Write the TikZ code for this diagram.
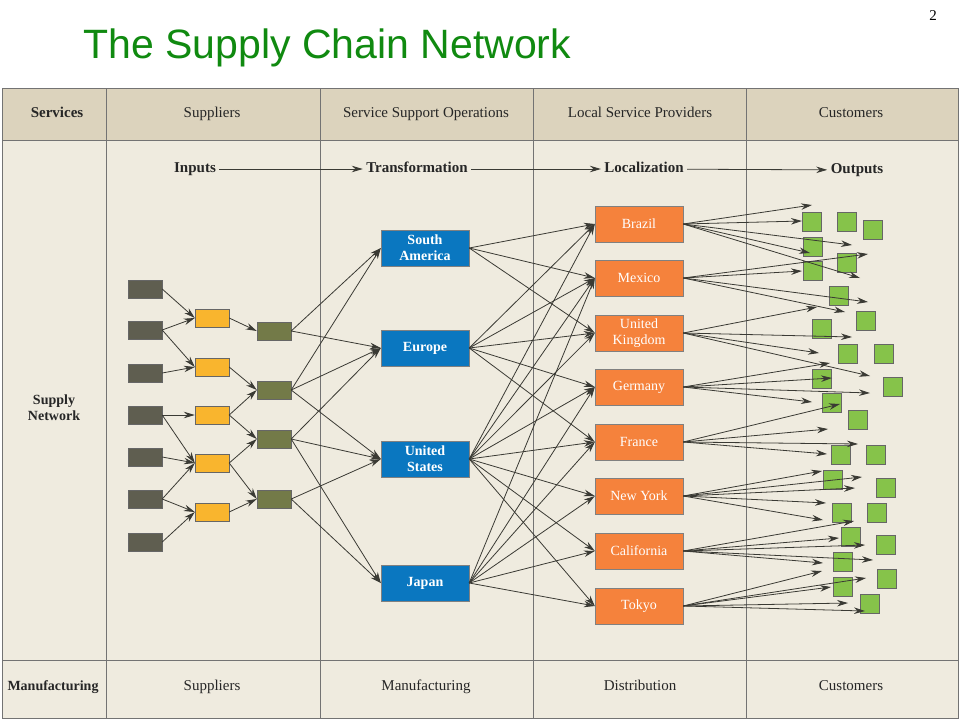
\documentclass[tikz,border=0pt]{standalone}
\usepackage{fontspec}
\setmainfont{Liberation Serif}
\newfontfamily\titlefont{Liberation Sans}
\usetikzlibrary{arrows.meta}
\definecolor{bodybg}{HTML}{EFEBDF}
\definecolor{headbg}{HTML}{DCD3BD}
\definecolor{grayb}{HTML}{5F5E50}
\definecolor{yelb}{HTML}{F9B52E}
\definecolor{oliveb}{HTML}{737A48}
\definecolor{blueb}{HTML}{0A77C0}
\definecolor{orangeb}{HTML}{F5823C}
\definecolor{greenb}{HTML}{86C34A}
\definecolor{titlegreen}{HTML}{108A10}
\definecolor{linec}{HTML}{3A3A34}
\begin{document}
\begin{tikzpicture}[x=1pt,y=-1pt,
  sup/.style={draw=black!60,fill=grayb,minimum width=34pt,minimum height=18pt,inner sep=0pt},
  yel/.style={draw=black!60,fill=yelb,minimum width=34pt,minimum height=18pt,inner sep=0pt},
  oli/.style={draw=black!60,fill=oliveb,minimum width=34pt,minimum height=18pt,inner sep=0pt},
  reg/.style={draw=black!50,fill=blueb,text=white,font=\bfseries\fontsize{14}{16}\selectfont,minimum width=88pt,minimum height=36pt,inner sep=0pt,align=center},
  loc/.style={draw=black!50,fill=orangeb,text=white,font=\fontsize{14}{16}\selectfont,minimum width=88pt,minimum height=36pt,inner sep=0pt,align=center},
  cust/.style={draw=black!60,fill=greenb,minimum width=19pt,minimum height=19pt,inner sep=0pt},
  arr/.style={draw=linec,line width=0.8pt,-{Stealth[length=11pt,width=6.5pt]}},
  hd/.style={font=\fontsize{15}{15}\selectfont,text=black!85,text height=10pt,text depth=3pt},
  hdb/.style={font=\bfseries\fontsize{15}{15}\selectfont,text=black!85,align=center,text height=10pt,text depth=3pt},
  stage/.style={font=\bfseries\fontsize{15}{15}\selectfont,text=black!85,text height=10pt,text depth=3pt}]
\useasboundingbox (0,0) rectangle (960,720);
\fill[white] (0,0) rectangle (960,720);
\node[text=titlegreen,font=\titlefont\fontsize{41}{41}\selectfont,anchor=west] (title) at (80,48) {The Supply Chain Network};
\node[font=\fontsize{15}{15}\selectfont] (pg) at (933,16) {2};
% table
\fill[bodybg] (2,88) rectangle (958,718);
\fill[headbg] (2,88) rectangle (958,140);
\draw[black!55,line width=0.8pt] (2,88) rectangle (958,718);
\draw[black!55,line width=0.8pt] (2,140) -- (958,140) (2,660) -- (958,660);
\foreach \x in {106,320,533,746} \draw[black!55,line width=0.8pt] (\x,88) -- (\x,718);
% headers
\node[hdb] (h0) at (57,114) {Services};
\node[hd] (h1) at (212,114) {Suppliers};
\node[hd] (h2) at (426,114) {Service Support Operations};
\node[hd] (h3) at (640,114) {Local Service Providers};
\node[hd] (h4) at (851,114) {Customers};
\node[hdb,font=\bfseries\fontsize{14}{15}\selectfont] (f0) at (53,687) {Manufacturing};
\node[hd] (f1) at (212,687) {Suppliers};
\node[hd] (f2) at (426,687) {Manufacturing};
\node[hd] (f3) at (640,687) {Distribution};
\node[hd] (f4) at (851,687) {Customers};
\node[font=\bfseries\fontsize{14}{16}\selectfont,align=center,text=black!85] (sn) at (54,408) {Supply\\Network};
% stages
\node[stage] (s1) at (195,169) {Inputs};
\node[stage] (s2) at (417,169) {Transformation};
\node[stage] (s3) at (644,169) {Localization};
\node[stage] (s4) at (857,170) {Outputs};
\draw[arr] (s1) -- (s2);
\draw[arr] (s2) -- (s3);
\draw[arr] (s3) -- (s4);
% suppliers
\foreach \i/\y in {1/289,2/330,3/373,4/415,5/457,6/499,7/542} \node[sup] (g\i) at (145,\y) {};
\foreach \i/\y in {1/318,2/367,3/415,4/463,5/512} \node[yel] (y\i) at (212,\y) {};
\foreach \i/\y in {1/331,2/390,3/439,4/499} \node[oli] (o\i) at (274,\y) {};
\node[reg] (sa) at (425,248) {South\\America};
\node[reg] (eu) at (425,348) {Europe};
\node[reg] (us) at (425,459) {United\\States};
\node[reg] (jp) at (425,583) {Japan};
\node[loc] (br) at (639,224) {Brazil};
\node[loc] (mx) at (639,278) {Mexico};
\node[loc] (uk) at (639,333) {United\\Kingdom};
\node[loc] (de) at (639,387) {Germany};
\node[loc] (fr) at (639,442) {France};
\node[loc] (ny) at (639,496) {New York};
\node[loc] (ca) at (639,551) {California};
\node[loc] (tk) at (639,606) {Tokyo};
% edges
\foreach \a/\b in {g1/y1,g2/y1,g2/y2,g3/y2,g4/y3,g4/y4,g5/y4,g6/y4,g6/y5,g7/y5,
  y1/o1,y2/o2,y3/o2,y3/o3,y4/o3,y4/o4,y5/o4,
  o1/sa,o1/eu,o2/sa,o2/eu,o2/us,o3/eu,o3/us,o3/jp,o4/us,o4/jp,
  sa/br,sa/mx,sa/uk,eu/br,eu/mx,eu/uk,eu/de,eu/fr,
  us/br,us/mx,us/uk,us/de,us/fr,us/ny,us/ca,us/tk,
  jp/mx,jp/de,jp/fr,jp/ny,jp/ca,jp/tk}
  \draw[arr] (\a.east) -- (\b.west);
% customers
\foreach \x/\y [count=\k] in {812/222,847/222,873/230,813/247,847/263,813/271,839/296,866/321,822/329,848/354,884/354,822/379,893/387,832/403,858/420,841/455,876/455,833/480,886/488,842/513,877/513,851/537,886/545,843/562,887/579,843/587,870/604}
  \node[cust] (c\k) at (\x,\y) {};
\foreach \s/\x/\y [count=\k] in {br/812/205,br/802/221,br/852/245,br/810/253,br/860/278,
  mx/868/254,mx/802/271,mx/868/302,mx/845/312,
  uk/817/307,uk/852/337,uk/819/353,uk/870/376,
  de/830/363,de/832/378,de/870/393,de/812/402,
  fr/840/404,fr/828/429,fr/858/444,fr/827/454,
  ny/822/471,ny/862/477,ny/855/488,ny/826/503,ny/823/520,
  ca/854/521,ca/839/538,ca/865/545,ca/873/560,ca/823/563,
  tk/822/571,tk/866/578,tk/831/587,tk/848/603,tk/865/611}
  {\coordinate (e\k) at (\x,\y); \draw[arr] (\s.east) -- (e\k);}
\end{tikzpicture}
\end{document}
